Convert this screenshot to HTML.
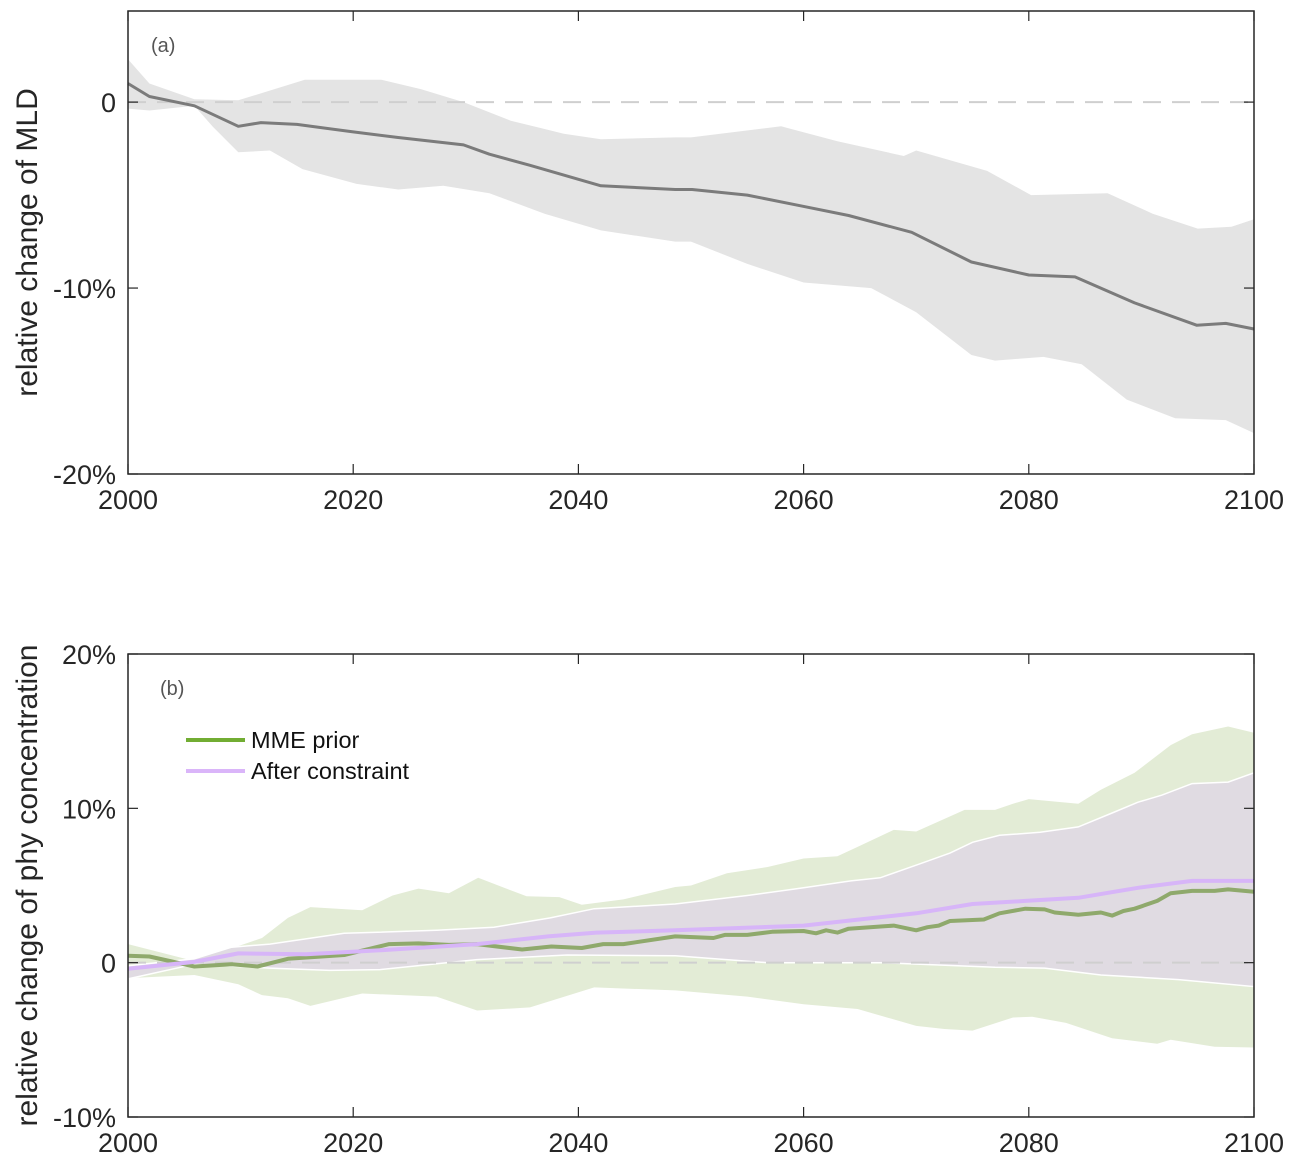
<!DOCTYPE html>
<html><head><meta charset="utf-8">
<style>
html,body{margin:0;padding:0;background:#fff;}
svg{display:block;font-family:"Liberation Sans",Arial,sans-serif;}
</style></head>
<body>
<svg id="chart" width="1295" height="1165" viewBox="0 0 1295 1165"></svg>
<script>
// ---- Panel (a) data: MLD relative change (%) ----
const aMeanYears = [2000,2001.9,2005.9,2009.8,2011.8,2015,2020,2023.9,2029.8,2032.1,2035.7,2042,2048.6,2050.1,2055,2059.9,2064,2069.6,2074.9,2080,2084.1,2089.4,2094.9,2097.5,2100];
const aMeanVals  = [1.0,0.3,-0.2,-1.3,-1.1,-1.2,-1.6,-1.9,-2.3,-2.8,-3.4,-4.5,-4.7,-4.7,-5.0,-5.6,-6.1,-7.0,-8.6,-9.3,-9.4,-10.8,-12.0,-11.9,-12.2];
const aUpYears = [2000,2001.9,2005.9,2009.8,2015.7,2019,2022.5,2026,2029.8,2034,2038.7,2042,2048.6,2050,2058,2063,2068.9,2070,2076.3,2080.2,2087,2091,2095,2098,2100];
const aUpVals  = [2.3,1.0,0.15,0.1,1.2,1.2,1.2,0.7,0,-1.0,-1.7,-2.0,-1.9,-1.9,-1.3,-2.1,-2.9,-2.6,-3.7,-5.0,-4.9,-6.0,-6.8,-6.7,-6.3];
const aLoYears = [2000,2001.9,2005.9,2007.5,2009.8,2012.6,2015.5,2020.3,2024,2028,2032.1,2037,2042,2048.6,2050,2055,2060,2066,2070,2074.9,2077,2081.3,2084.7,2088.7,2093,2097.5,2100];
const aLoVals  = [-0.35,-0.45,-0.2,-1.3,-2.7,-2.6,-3.6,-4.4,-4.7,-4.5,-4.9,-6.0,-6.9,-7.5,-7.5,-8.7,-9.7,-10.0,-11.3,-13.6,-13.9,-13.7,-14.1,-16.0,-17.0,-17.1,-17.8];
const aYTicks = [0,-10,-20];
const aYTickLabels = ["0","-10%","-20%"];

// ---- Panel (b) data: phy concentration relative change (%) ----
const gMeanYears = [2000,2001.9,2005.9,2009.2,2011.5,2014.2,2019.2,2023.2,2025.8,2028.5,2031,2035,2037.6,2040.3,2042.2,2044,2048.6,2052,2053,2055,2057.2,2060,2061.1,2062,2063,2064,2067,2068,2070,2071,2072,2073,2076,2077.4,2079.7,2081.4,2082.3,2084.4,2086.4,2087.4,2088.4,2089.4,2091.4,2092.6,2094.5,2096.5,2097.7,2100];
const gMeanVals  = [0.45,0.4,-0.25,-0.1,-0.25,0.25,0.5,1.2,1.25,1.15,1.2,0.85,1.05,0.95,1.2,1.2,1.7,1.6,1.8,1.8,2.0,2.05,1.9,2.1,1.95,2.2,2.35,2.4,2.1,2.3,2.4,2.7,2.8,3.2,3.5,3.45,3.25,3.1,3.25,3.05,3.35,3.5,4.0,4.5,4.65,4.65,4.75,4.6];
const pMeanYears = [2000,2005.9,2009.8,2015.8,2022.4,2031,2037.3,2041.6,2048.6,2060,2070,2075,2079.7,2084.4,2089.7,2094.5,2100];
const pMeanVals  = [-0.4,0.05,0.6,0.55,0.8,1.2,1.7,1.95,2.1,2.4,3.2,3.8,4.0,4.2,4.85,5.3,5.3];
const gUpYears = [2000,2005.9,2011.9,2014.2,2016.2,2020.8,2023.5,2025.8,2028.5,2031.1,2035.4,2038.3,2040.3,2044,2048.6,2050,2053.2,2056.8,2060,2063,2064.8,2068,2070,2074.3,2077,2078.6,2080,2084.4,2086.4,2089.4,2092.6,2094.5,2097.7,2100];
const gUpVals  = [1.2,0.1,1.6,2.9,3.6,3.4,4.35,4.8,4.5,5.5,4.3,4.25,3.75,4.1,4.9,5.0,5.8,6.2,6.75,6.9,7.5,8.6,8.5,9.9,9.9,10.3,10.6,10.3,11.2,12.3,14.1,14.8,15.3,14.9];
const gLoYears = [2000,2005.9,2009.8,2011.9,2014.2,2016.2,2020.8,2027.4,2031,2035.7,2041.4,2048.6,2055,2060,2064.8,2070,2072.5,2075,2078.6,2080.3,2083.3,2087.4,2091.4,2092.6,2096.5,2100];
const gLoVals  = [-1.0,-0.8,-1.4,-2.1,-2.3,-2.8,-2.0,-2.2,-3.1,-2.9,-1.6,-1.8,-2.2,-2.7,-3.0,-4.1,-4.3,-4.4,-3.55,-3.5,-3.9,-4.9,-5.25,-5.0,-5.45,-5.5];
const pUpYears = [2000,2005.9,2009.2,2012.6,2019.2,2027.4,2032.5,2037.5,2041.4,2048.6,2055,2060,2064.2,2066.8,2070.3,2073,2075,2077.4,2081,2084.4,2087.4,2089.7,2091.8,2094.5,2097.7,2100];
const pUpVals  = [-0.2,0.25,1.0,1.2,1.9,2.1,2.3,2.9,3.5,3.8,4.35,4.85,5.3,5.5,6.4,7.1,7.8,8.25,8.45,8.8,9.7,10.4,10.85,11.6,11.7,12.3];
const pLoYears = [2000,2005.9,2012.6,2017.9,2022.4,2031,2039,2048.6,2056.8,2060,2066.8,2077,2081.4,2086.4,2093.3,2100];
const pLoVals  = [-1.05,-0.1,-0.35,-0.5,-0.45,0.2,0.5,0.45,0,0,0,-0.3,-0.35,-0.8,-1.1,-1.55];
const bYTicks = [20,10,0,-10];
const bYTickLabels = ["20%","10%","0","-10%"];
const xTicks = [2000,2020,2040,2060,2080,2100];

const NS="http://www.w3.org/2000/svg";
const svg=document.getElementById('chart');
function mk(tag,attrs,parent){const e=document.createElementNS(NS,tag);for(const k in attrs)e.setAttribute(k,attrs[k]);(parent||svg).appendChild(e);return e;}
const X0=128,X1=1254;
function xs(y){return X0+(y-2000)/100*(X1-X0);}
const A={top:11,bot:474,vmax:4.9,vmin:-20};
const B={top:654,bot:1117,vmax:20,vmin:-10};
function ys(P,v){return P.top+(P.vmax-v)/(P.vmax-P.vmin)*(P.bot-P.top);}
function linePts(P,yrs,vals){return yrs.map((y,i)=>xs(y).toFixed(1)+','+ys(P,vals[i]).toFixed(1)).join(' ');}
function bandPts(P,uy,uv,ly,lv){const up=uy.map((y,i)=>xs(y).toFixed(1)+','+ys(P,uv[i]).toFixed(1));const lo=ly.map((y,i)=>xs(y).toFixed(1)+','+ys(P,lv[i]).toFixed(1)).reverse();return up.concat(lo).join(' ');}

function axes(P,yt,ytl,name,title,panelLabel){
  const g=mk('g',{});
  
  
  xTicks.forEach(t=>{
    const x=xs(t);
    mk('line',{x1:x,x2:x,y1:P.bot,y2:P.bot-10,stroke:'#262626','stroke-width':1.2},g);
    mk('line',{x1:x,x2:x,y1:P.top,y2:P.top+10,stroke:'#262626','stroke-width':1.2},g);
    const tx=mk('text',{x:x,y:P.bot+35,'text-anchor':'middle','font-size':27,fill:'#262626'},g);
    tx.textContent=t;
    
    
  });
  yt.forEach((t,i)=>{
    const y=ys(P,t);
    mk('line',{x1:X0,x2:X0+10,y1:y,y2:y,stroke:'#262626','stroke-width':1.2},g);
    mk('line',{x1:X1,x2:X1-10,y1:y,y2:y,stroke:'#262626','stroke-width':1.2},g);
    const tx=mk('text',{x:116,y:y+10,'text-anchor':'end','font-size':27,fill:'#262626'},g);
    tx.textContent=ytl[i];
    
    
  });
  mk('rect',{x:X0,y:P.top,width:X1-X0,height:P.bot-P.top,fill:'none',stroke:'#262626','stroke-width':1.5},g);
  const cy=(P.top+P.bot)/2;
  const tt=mk('text',{x:0,y:0,transform:'translate(37,'+cy+') rotate(-90)','text-anchor':'middle','font-size':30,fill:'#262626'},g);
  tt.textContent=title;
  
  
  const pl=mk('text',{x:panelLabel[1],y:P.top+41,'font-size':20,fill:'#555'},g);
  pl.textContent=panelLabel[0];
  
  
}
function zero(P){const y=ys(P,0);const l=mk('line',{x1:X0,x2:X1,y1:y,y2:y,stroke:'#cfcfcf','stroke-width':2,'stroke-dasharray':'18 11'});

}

// Panel a
let e=mk('polygon',{points:bandPts(A,aUpYears,aUpVals,aLoYears,aLoVals),fill:'#e4e4e4'});


zero(A);
e=mk('polyline',{points:linePts(A,aMeanYears,aMeanVals),fill:'none',stroke:'#7b7b7b','stroke-width':3,'stroke-linejoin':'round'});


axes(A,aYTicks,aYTickLabels,'panel-a','relative change of MLD',['(a)',151]);

// Panel b
e=mk('polygon',{points:bandPts(B,gUpYears,gUpVals,gLoYears,gLoVals),fill:'#e3ecd6'});


e=mk('polygon',{points:bandPts(B,pUpYears,pUpVals,pLoYears,pLoVals),fill:'#e0dbe2',stroke:'#fff','stroke-width':1.5});


zero(B);
e=mk('polyline',{points:linePts(B,gMeanYears,gMeanVals),fill:'none',stroke:'#8fa96c','stroke-width':4,'stroke-linejoin':'round'});


e=mk('polyline',{points:linePts(B,pMeanYears,pMeanVals),fill:'none',stroke:'#d7b5f8','stroke-width':4,'stroke-linejoin':'round'});


axes(B,bYTicks,bYTickLabels,'panel-b','relative change of phy concentration',['(b)',160]);

// Legend
const lg=mk('g',{});


const items=[['MME prior','#72ad33',740],['After constraint','#dab5f9',771]];
items.forEach(it=>{
  const g=mk('g',{},lg);
  
  
  mk('line',{x1:186,x2:245,y1:it[2],y2:it[2],stroke:it[1],'stroke-width':4},g);
  const t=mk('text',{x:251,y:it[2]+8,'font-size':23.5,fill:'#111'},g);
  t.textContent=it[0];
});
</script>
</body></html>
